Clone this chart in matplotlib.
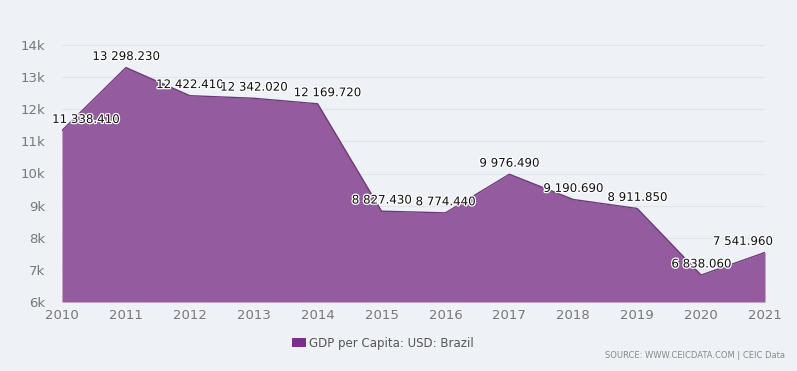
import matplotlib
matplotlib.use("Agg")
import matplotlib.pyplot as plt
import matplotlib.patheffects as pe
from matplotlib.patches import Patch

years = [2010, 2011, 2012, 2013, 2014, 2015, 2016, 2017, 2018, 2019, 2020, 2021]
values = [11338.410, 13298.230, 12422.410, 12342.020, 12169.720, 8827.430,
          8774.440, 9976.490, 9190.690, 8911.850, 6838.060, 7541.960]
labels = ["11 338.410", "13 298.230", "12 422.410", "12 342.020", "12 169.720",
          "8 827.430", "8 774.440", "9 976.490", "9 190.690", "8 911.850",
          "6 838.060", "7 541.960"]
yticks = [6000, 7000, 8000, 9000, 10000, 11000, 12000, 13000, 14000]
ytick_labels = ["6k", "7k", "8k", "9k", "10k", "11k", "12k", "13k", "14k"]
series_name = "GDP per Capita: USD: Brazil"
source = "SOURCE: WWW.CEICDATA.COM | CEIC Data"

bg = "#eef2f6"
fill_c = "#955b9f"
edge_c = "#6e3a7c"

fig = plt.figure(figsize=(7.97, 3.71), dpi=100, facecolor=bg)
ax = fig.add_axes([62/797, 1-302/371, (765-62)/797, (302-45)/371], facecolor=bg)

ax.fill_between(years, values, 6000, color=fill_c, linewidth=0, zorder=2)
ax.plot(years, values, color=edge_c, linewidth=1.0, zorder=3)

ax.set_xlim(2010, 2021)
ax.set_ylim(6000, 14000)
ax.set_yticks(yticks)
ax.set_yticklabels(ytick_labels)
ax.set_xticks(years)
ax.set_xticklabels([str(y) for y in years])
for s in ax.spines.values():
    s.set_visible(False)
ax.tick_params(axis="both", length=0, colors="#777777", labelsize=9.5)
ax.tick_params(axis="y", pad=12)
ax.tick_params(axis="x", pad=5)
ax.grid(axis="y", color="#e2e6ea", linewidth=0.8, zorder=1)
ax.set_axisbelow(True)

offsets_x = {0: 17, 4: 7, 11: -16}
for i, (x, v, lab) in enumerate(zip(years, values, labels)):
    dx = offsets_x.get(i, 0)
    t = ax.annotate(lab, (x, v), xytext=(dx, 8), textcoords="offset points",
                    ha="center", va="center", fontsize=8.5, color="#111111",
                    zorder=5, annotation_clip=False)
    t.set_path_effects([pe.withStroke(linewidth=1.8, foreground="white")])

handle = Patch(facecolor="#7b2f8c", edgecolor="none")
fig.legend([handle], [series_name], loc="center", bbox_to_anchor=(383/797, 1-343/371),
           frameon=False, fontsize=8.5, labelcolor="#555555", handlelength=1.2,
           handleheight=0.8, handletextpad=0.3)
fig.text(785/797, 1-355/371, source, ha="right", va="center", fontsize=6, color="#888888")

fig.savefig("out.png", dpi=100, facecolor=bg)
